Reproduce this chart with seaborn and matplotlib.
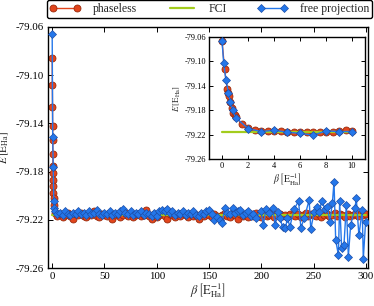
import matplotlib
matplotlib.use("Agg")
import matplotlib.pyplot as plt
import seaborn as sns

# colores
ROJO = "#e2451c"
ROJO_BORDE = "#9a2a0c"
AZUL = "#2477ea"
AZUL_BORDE = "#1d4fa8"
VERDE_FCI = "#a3cc1d"

FCI = -79.2162

# datos del panel principal: inicio denso + cola cada 2.5
beta_ph_inicio = [0.0, 0.2, 0.3, 0.4, 0.5, 0.6, 0.7, 0.8, 0.9, 1.0, 1.25, 1.5, 2.0]
e_ph_inicio = [-79.086, -79.108, -79.126, -79.142, -79.154, -79.165, -79.175,
               -79.181, -79.187, -79.192, -79.198, -79.202, -79.208]
beta_ph_cola = [2.5 * (i + 1) for i in range(120)]
e_ph_cola = [
    -79.214, -79.217, -79.215, -79.218, -79.216, -79.214, -79.217, -79.219, -79.215, -79.216,
    -79.214, -79.217, -79.218, -79.215, -79.216, -79.213, -79.217, -79.218, -79.215, -79.216,
    -79.217, -79.214, -79.219, -79.216, -79.215, -79.218, -79.216, -79.214, -79.217, -79.215,
    -79.218, -79.216, -79.215, -79.217, -79.216, -79.212, -79.217, -79.219, -79.215, -79.218,
    -79.216, -79.214, -79.217, -79.219, -79.215, -79.216, -79.218, -79.215, -79.217, -79.214,
    -79.216, -79.218, -79.215, -79.217, -79.216, -79.219, -79.215, -79.217, -79.214, -79.216,
    -79.218, -79.215, -79.217, -79.219, -79.216, -79.214, -79.217, -79.218, -79.215, -79.216,
    -79.219, -79.215, -79.217, -79.216, -79.218, -79.215, -79.217, -79.214, -79.216, -79.218,
    -79.215, -79.217, -79.216, -79.214, -79.218, -79.216, -79.215, -79.217, -79.216, -79.218,
    -79.215, -79.216, -79.217, -79.215, -79.218, -79.216, -79.214, -79.217, -79.215, -79.216,
    -79.217, -79.215, -79.218, -79.216, -79.215, -79.217, -79.216, -79.214, -79.217, -79.215,
    -79.216, -79.218, -79.215, -79.217, -79.216, -79.215, -79.217, -79.214, -79.216, -79.215,
]

beta_fp_inicio = [0.0, 0.5, 1.0, 1.5, 2.0]
e_fp_inicio = [-79.066, -79.151, -79.176, -79.204, -79.210]
beta_fp_cola = [2.5 * (i + 1) for i in range(77)]
e_fp_cola = [
    -79.213, -79.215, -79.214, -79.216, -79.213, -79.215, -79.216, -79.214, -79.215, -79.213,
    -79.215, -79.214, -79.216, -79.213, -79.215, -79.214, -79.212, -79.215, -79.216, -79.214,
    -79.215, -79.213, -79.216, -79.214, -79.215, -79.213, -79.211, -79.214, -79.215, -79.213,
    -79.216, -79.214, -79.215, -79.213, -79.216, -79.214, -79.215, -79.217, -79.214, -79.217,
    -79.213, -79.212, -79.213, -79.211, -79.214, -79.213, -79.216, -79.214, -79.215, -79.213,
    -79.216, -79.214, -79.215, -79.213, -79.216, -79.217, -79.214, -79.215, -79.213, -79.212,
    -79.215, -79.220, -79.218, -79.220, -79.223, -79.2105, -79.214, -79.215, -79.2105, -79.214,
    -79.213, -79.212, -79.216, -79.214, -79.213, -79.217, -79.215,
]
# zona ruidosa final
beta_fp_final = [194.9, 199.7, 201.9, 204.4, 207.0, 210.8, 213.3, 215.6, 217.8, 220.3,
                 222.9, 225.0, 227.3, 231.4, 235.6, 237.8, 241.0, 245.7, 247.3, 250.5,
                 253.7, 255.2, 257.8, 261.0, 263.2, 265.4, 267.9, 269.5, 271.1, 273.7,
                 274.9, 276.8, 279.0, 281.3, 283.2, 285.4, 289.5, 290.8, 293.3, 296.5,
                 297.5, 299.7]
e_fp_final = [-79.2188, -79.2127, -79.2243, -79.2111, -79.2147, -79.2100, -79.2243, -79.2133,
              -79.2188, -79.2257, -79.2271, -79.2188, -79.2257, -79.2111, -79.2045, -79.2266,
              -79.2188, -79.2036, -79.2279, -79.2133, -79.2091, -79.2133, -79.2045, -79.2111,
              -79.2091, -79.2216, -79.2064, -79.1884, -79.2368, -79.2492, -79.2045, -79.2437,
              -79.2410, -79.2077, -79.2506, -79.2243, -79.2105, -79.2022, -79.2330, -79.2119,
              -79.2526, -79.2216]

# datos del recuadro (beta 0..10)
beta_ph_recuadro = [0.0, 0.2, 0.4, 0.45, 0.55, 0.6, 0.75, 0.85, 1.0, 1.1, 1.5, 2.0, 2.5, 3.0,
                    3.5, 4.0, 4.5, 5.0, 5.5, 6.0, 6.5, 7.0, 7.5, 8.0, 8.5, 9.0, 9.5, 10.0]
e_ph_recuadro = [-79.066, -79.113, -79.145, -79.152, -79.157, -79.167, -79.177, -79.185,
                 -79.188, -79.191, -79.203, -79.209, -79.212, -79.214, -79.214, -79.214,
                 -79.214, -79.215, -79.216, -79.215, -79.216, -79.215, -79.216, -79.215,
                 -79.215, -79.214, -79.213, -79.214]
beta_fp_recuadro = [0.0, 0.13, 0.3, 0.49, 0.64, 0.82, 1.05, 2.0, 3.0, 4.0, 5.0, 6.0, 7.0,
                    8.0, 9.0, 10.0]
e_fp_recuadro = [-79.066, -79.103, -79.130, -79.151, -79.166, -79.180, -79.192, -79.210,
                 -79.215, -79.213, -79.216, -79.218, -79.221, -79.214, -79.215, -79.215]

ticks_y = [-79.26, -79.22, -79.18, -79.14, -79.10, -79.06]

sns.set_style("ticks")
plt.rcParams["font.family"] = ["Liberation Serif", "DejaVu Serif"]
plt.rcParams["mathtext.fontset"] = "stix"
plt.rcParams["axes.unicode_minus"] = False
plt.rcParams["xtick.direction"] = "in"
plt.rcParams["ytick.direction"] = "in"

ETIQ_E = r"$E\,[\mathrm{E}_{\mathrm{Ha}}]$"
ETIQ_B = r"$\beta\,\left[\mathrm{E}_{\mathrm{Ha}}^{-1}\right]$"


def dibujar(ax, bx_ph, ey_ph, bx_fp, ey_fp, xmax, ms_ph, ms_fp):
    sns.lineplot(x=bx_ph, y=ey_ph, ax=ax, sort=False, estimator=None, color=ROJO,
                 marker="o", markersize=ms_ph, markeredgecolor=ROJO_BORDE, markeredgewidth=0.6,
                 linewidth=1.0, label="phaseless", zorder=2)
    sns.lineplot(x=[0, xmax], y=[FCI, FCI], ax=ax, sort=False, estimator=None,
                 color=VERDE_FCI, linewidth=1.6, label="FCI", zorder=3)
    sns.lineplot(x=bx_fp, y=ey_fp, ax=ax, sort=False, estimator=None, color=AZUL,
                 marker="D", markersize=ms_fp, markeredgecolor=AZUL_BORDE,
                 markeredgewidth=0.5, linewidth=1.0, label="free projection", zorder=4)
    if ax.get_legend() is not None:
        ax.get_legend().remove()
    ax.set_ylim(-79.26, -79.06)
    ax.set_yticks(ticks_y)
    ax.yaxis.set_major_formatter(matplotlib.ticker.FormatStrFormatter("%.2f"))
    ax.tick_params(top=True, right=True, length=3.5, width=0.7, colors="black")
    for lado in ax.spines.values():
        lado.set_visible(True)
        lado.set_linewidth(1.0)
        lado.set_color("black")


figura = plt.figure(figsize=(3.74, 3.06), dpi=100)

# panel principal
area = figura.add_axes([48 / 374, 38 / 306, 320 / 374, 241 / 306])
dibujar(area, beta_ph_inicio + beta_ph_cola, e_ph_inicio + e_ph_cola,
        beta_fp_inicio + beta_fp_cola + beta_fp_final, e_fp_inicio + e_fp_cola + e_fp_final,
        300, 5.0, 3.6)
area.set_xlim(-4, 302)
area.set_xticks([0, 50, 100, 150, 200, 250, 300])
area.tick_params(labelsize=7.8, pad=3)
area.set_xlabel(ETIQ_B, fontsize=9, labelpad=0)
area.set_ylabel(ETIQ_E, fontsize=8, labelpad=3)

# recuadro
recuadro = figura.add_axes([209 / 374, 147 / 306, 156 / 374, 122 / 306])
dibujar(recuadro, beta_ph_recuadro, e_ph_recuadro, beta_fp_recuadro, e_fp_recuadro,
        10, 5.0, 4.0)
recuadro.set_xlim(-1, 11)
recuadro.set_xticks([0, 2, 4, 6, 8, 10])
recuadro.tick_params(labelsize=6, pad=2, length=3)
recuadro.set_xlabel(ETIQ_B, fontsize=7, labelpad=1)
recuadro.set_ylabel(ETIQ_E, fontsize=6.5, labelpad=1)

# leyenda arriba
manejadores, etiquetas = area.get_legend_handles_labels()
leyenda = figura.legend(manejadores, etiquetas, loc="lower left", ncol=3, mode="expand",
                        bbox_to_anchor=(47 / 374, 1 - 18 / 306, 325 / 374, 17 / 306),
                        borderaxespad=0, fontsize=8.5, numpoints=2, handlelength=2.6,
                        handletextpad=1.0, borderpad=0.25, fancybox=True, framealpha=1)
leyenda.get_frame().set_edgecolor("black")
leyenda.get_frame().set_linewidth(1.0)

figura.savefig("out.png", dpi=100)
